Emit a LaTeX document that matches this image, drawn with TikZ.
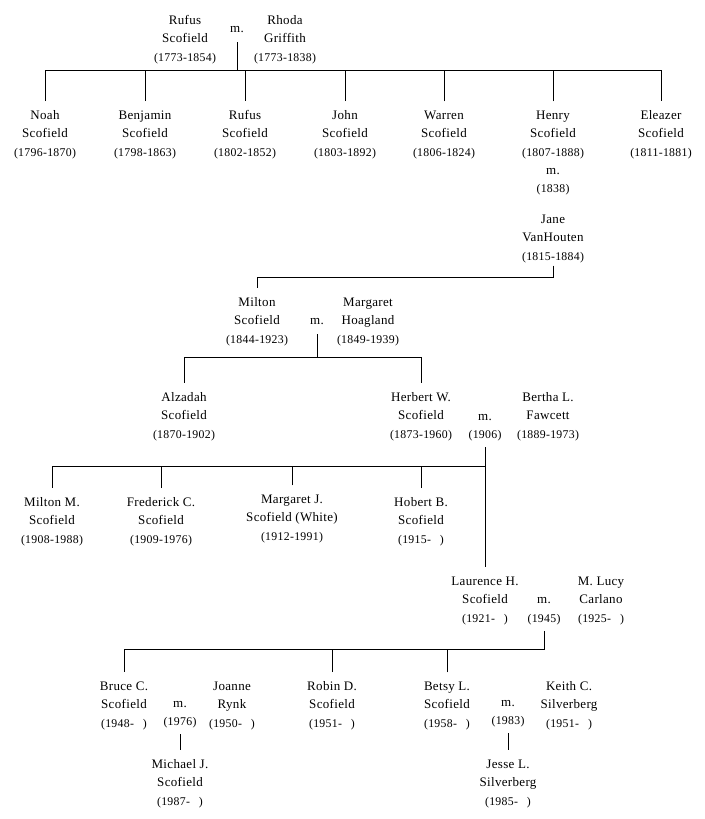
\documentclass[tikz,border=0pt]{standalone}
\usepackage{fontspec}
\setmainfont[LetterSpace=2.5]{Liberation Serif}
\newcommand\dt[1]{{\fontsize{11.8}{18.5}\selectfont #1}}
\newcommand\per[3]{#1\\#2\\\dt{#3}}
\newcommand\op[1]{(#1-\hspace{9pt})}
\begin{document}
\begin{tikzpicture}[x=1pt,y=-1pt,
  person/.style={align=center, inner xsep=1pt, inner ysep=9pt, font=\fontsize{13}{18.5}\selectfont},
  mlab/.style={person, inner ysep=9.5pt},
  mdate/.style={person, inner ysep=6pt},
  conn/.style={line width=1pt, black}]
\useasboundingbox (0,0) rectangle (704,819);
% generation 0
\node[person] (rufusA) at (185,39.5) {\per{Rufus}{Scofield}{(1773-1854)}};
\node[mlab] (mA) at (237,29.5) {m.};
\node[person] (rhoda) at (285,39.5) {\per{Rhoda}{Griffith}{(1773-1838)}};
% generation 1
\node[person] (noah) at (45,134.5) {\per{Noah}{Scofield}{(1796-1870)}};
\node[person] (benjamin) at (145,134.5) {\per{Benjamin}{Scofield}{(1798-1863)}};
\node[person] (rufusB) at (245,134.5) {\per{Rufus}{Scofield}{(1802-1852)}};
\node[person] (john) at (345,134.5) {\per{John}{Scofield}{(1803-1892)}};
\node[person] (warren) at (444,134.5) {\per{Warren}{Scofield}{(1806-1824)}};
\node[person] (henry) at (553,134.5) {\per{Henry}{Scofield}{(1807-1888)}};
\node[person] (eleazer) at (661,134.5) {\per{Eleazer}{Scofield}{(1811-1881)}};
\node[mdate] (mH) at (553,181.5) {m.\\\dt{(1838)}};
\node[person] (jane) at (553,238.5) {\per{Jane}{VanHouten}{(1815-1884)}};
% generation 2
\node[person] (miltonA) at (257,321.5) {\per{Milton}{Scofield}{(1844-1923)}};
\node[mlab] (mB) at (317,321.5) {m.};
\node[person] (margaretH) at (368,321.5) {\per{Margaret}{Hoagland}{(1849-1939)}};
% generation 3
\node[person] (alzadah) at (184,416.5) {\per{Alzadah}{Scofield}{(1870-1902)}};
\node[person] (herbert) at (421,416.5) {\per{Herbert W.}{Scofield}{(1873-1960)}};
\node[mdate] (mC) at (485,427.5) {m.\\\dt{(1906)}};
\node[person] (bertha) at (548,416.5) {\per{Bertha L.}{Fawcett}{(1889-1973)}};
% generation 4
\node[person] (miltonM) at (52,521.5) {\per{Milton M.}{Scofield}{(1908-1988)}};
\node[person] (frederick) at (161,521.5) {\per{Frederick C.}{Scofield}{(1909-1976)}};
\node[person] (margaretJ) at (292,518.5) {\per{Margaret J.}{Scofield (White)}{(1912-1991)}};
\node[person] (hobert) at (421,521.5) {\per{Hobert B.}{Scofield}{\op{1915}}};
\node[person] (laurence) at (485,600.5) {\per{Laurence H.}{Scofield}{\op{1921}}};
\node[mdate] (mD) at (544,611) {m.\\\dt{(1945)}};
\node[person] (lucy) at (601,600.5) {\per{M. Lucy}{Carlano}{\op{1925}}};
% generation 5
\node[person] (bruce) at (124,705.5) {\per{Bruce C.}{Scofield}{\op{1948}}};
\node[mdate] (mE) at (180,714.5) {m.\\\dt{(1976)}};
\node[person] (joanne) at (232,705.5) {\per{Joanne}{Rynk}{\op{1950}}};
\node[person] (robin) at (332,705.5) {\per{Robin D.}{Scofield}{\op{1951}}};
\node[person] (betsy) at (447,705.5) {\per{Betsy L.}{Scofield}{\op{1958}}};
\node[mdate] (mF) at (508,713.5) {m.\\\dt{(1983)}};
\node[person] (keith) at (569,705.5) {\per{Keith C.}{Silverberg}{\op{1951}}};
% generation 6
\node[person] (michael) at (180,783.5) {\per{Michael J.}{Scofield}{\op{1987}}};
\node[person] (jesse) at (508,783.5) {\per{Jesse L.}{Silverberg}{\op{1985}}};
% bars
\coordinate (bar0) at (0,70);
\coordinate (bar1) at (0,277);
\coordinate (bar2) at (0,357);
\coordinate (bar3) at (0,466);
\coordinate (bar4) at (0,649);
% connectors
\draw[conn] (mA.south) -- (mA.south |- bar0);
\draw[conn] (noah.north) |- (eleazer.north |- bar0) -- (eleazer.north);
\foreach \c in {benjamin,rufusB,john,warren,henry}
  \draw[conn] (\c.north) -- (\c.north |- bar0);
\draw[conn] ([yshift=6pt]jane.south) |- (miltonA.north |- bar1) -- (miltonA.north);
\draw[conn] (mB.south) |- (alzadah.north |- bar2) -- (alzadah.north);
\draw[conn] (mB.south |- bar2) -| (herbert.north);
\draw[conn] (mC.south) -- (laurence.north);
\draw[conn] (mC.south |- bar3) -| (miltonM.north);
\foreach \c in {frederick,margaretJ,hobert}
  \draw[conn] (\c.north) -- (\c.north |- bar3);
\draw[conn] (mD.south) |- (bruce.north |- bar4) -- (bruce.north);
\foreach \c in {robin,betsy}
  \draw[conn] (\c.north) -- (\c.north |- bar4);
\draw[conn] (mE.south) -- (michael.north);
\draw[conn] (mF.south) -- (jesse.north);
\end{tikzpicture}
\end{document}
